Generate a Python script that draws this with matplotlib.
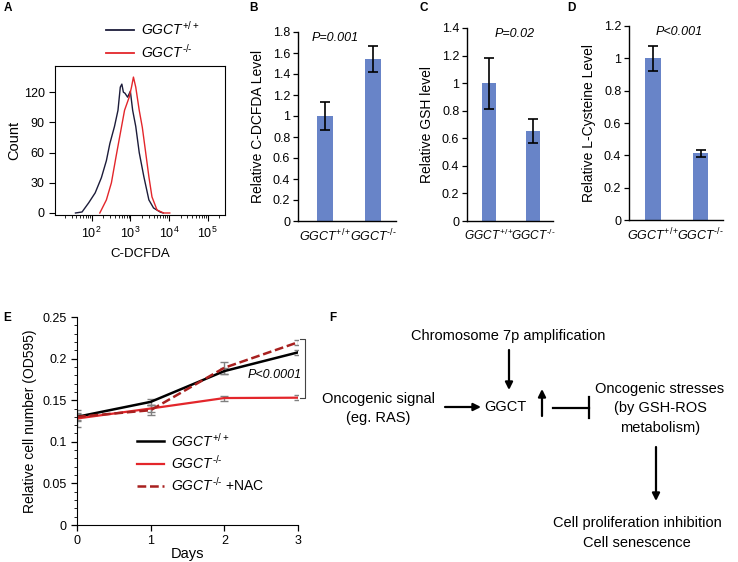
import matplotlib
matplotlib.use("Agg")
import matplotlib.pyplot as plt
from matplotlib.lines import Line2D
from matplotlib.ticker import LogLocator, NullFormatter, MultipleLocator
import numpy as np

plt.rcParams['font.family'] = ['Liberation Sans', 'DejaVu Sans']
plt.rcParams['mathtext.fontset'] = 'custom'
plt.rcParams['mathtext.rm'] = 'Liberation Sans'
plt.rcParams['mathtext.it'] = 'Liberation Sans:italic'
plt.rcParams['mathtext.bf'] = 'Liberation Sans:bold'

# %%
# data - panel A histogram (log10 C-DCFDA intensity, count)
hist_log_wt = [1.58, 1.75, 1.92, 2.09, 2.25, 2.38, 2.47, 2.59, 2.68, 2.74, 2.78, 2.82,
               2.86, 2.93, 3.0, 3.06, 3.14, 3.23, 3.35, 3.48, 3.6, 3.77, 3.85]
hist_cnt_wt = [0, 1, 10, 20, 35, 52, 69, 86, 102, 125, 128, 120,
               119, 115, 121, 102, 86, 60, 36, 13, 5, 1, 0]
hist_log_ko = [2.21, 2.38, 2.51, 2.63, 2.74, 2.85, 2.97, 3.03, 3.08, 3.14, 3.23, 3.31,
               3.39, 3.48, 3.56, 3.69, 3.86, 4.02]
hist_cnt_ko = [0, 13, 30, 56, 79, 102, 115, 125, 135, 125, 102, 85,
               62, 36, 16, 3, 0, 0]

# panels B-D  (u2010 = hyphen, so mathtext doesn't turn it into a wide minus)
genotypes = ['$\\mathit{GGCT}^{+/+}$', '$\\mathit{GGCT}^{\u2010/\u2010}$']
dcfda_mean = [1.0, 1.545]
dcfda_err = [0.135, 0.125]
gsh_mean = [1.0, 0.653]
gsh_err = [0.185, 0.09]
cys_mean = [1.0, 0.412]
cys_err = [0.078, 0.021]

# panel E
days = [0, 1, 2, 3]
od_wt = [0.130, 0.148, 0.185, 0.2075]
od_ko = [0.128, 0.140, 0.1526, 0.153]
od_nac = [0.130, 0.138, 0.189, 0.2196]
err_wt = [0.005, 0.004, 0.004, 0.003]
err_ko = [0.010, 0.004, 0.003, 0.003]
err_nac = [0.004, 0.006, 0.007, 0.003]

# %%
W, H = 738, 562
fig = plt.figure(figsize=(W / 100, H / 100), dpi=100)


def rect(l, t, r, b):
    # pixel box -> figure fraction
    return [l / W, 1 - b / H, (r - l) / W, (b - t) / H]


# overlay axes in pixel coords for letters and the diagram
ov = fig.add_axes([0, 0, 1, 1])
ov.set_xlim(0, W)
ov.set_ylim(H, 0)
ov.axis('off')

for lab, x, y in [('A', 8, 8), ('B', 253, 8), ('C', 424, 8), ('D', 571, 8), ('E', 7, 318), ('F', 333, 318)]:
    ov.text(x, y, lab, fontsize=8.5, fontweight='bold', ha='center', va='center')

# %%
# Panel A
axA = fig.add_axes(rect(55, 66, 225, 215))
axA.plot(10 ** np.array(hist_log_wt), hist_cnt_wt, color='#1c1c3a', lw=1)
axA.plot(10 ** np.array(hist_log_ko), hist_cnt_ko, color='#e3262b', lw=1)
axA.set_xscale('log')
axA.set_xlim(10 ** 1.05, 10 ** 5.45)
axA.set_ylim(-2, 146)
axA.set_yticks([0, 30, 60, 90, 120])
axA.set_xticks([1e2, 1e3, 1e4, 1e5])
axA.xaxis.set_minor_locator(LogLocator(base=10, subs=np.arange(2, 10), numticks=20))
axA.xaxis.set_minor_formatter(NullFormatter())
axA.tick_params(labelsize=9, length=4, width=0.8)
axA.tick_params(which='minor', length=2.5, width=0.6)
axA.set_ylabel('Count', fontsize=10.5, labelpad=2)
axA.set_xlabel('C-DCFDA', fontsize=9.5, labelpad=5)
hA = [Line2D([], [], color='#1c1c3a', lw=1.3), Line2D([], [], color='#e3262b', lw=1.3)]
axA.legend(hA, genotypes, loc='upper left', bbox_to_anchor=(0.3, 1.31), frameon=False,
           fontsize=10, handlelength=2.0, handletextpad=0.5, labelspacing=0.35,
           borderpad=0, borderaxespad=0)


# %%
# Panels B, C, D
def bar_panel(box, mean, err, ymax, step, xlim, ylabel, ptext, px, xfs=9):
    ax = fig.add_axes(rect(*box))
    ax.bar([0, 1], mean, width=0.32, color='#6884c8')
    ax.errorbar([0, 1], mean, yerr=err, fmt='none', ecolor='k', elinewidth=1.2,
                capsize=3.5, capthick=1.2)
    ax.set_xlim(*xlim)
    ax.set_ylim(0, ymax)
    ticks = np.round(np.arange(0, ymax + step / 2, step), 1)
    ax.set_yticks(ticks)
    ax.set_yticklabels(['%g' % t for t in ticks])
    ax.set_xticks([0, 1])
    ax.set_xticklabels(genotypes, fontsize=xfs)
    ax.tick_params(axis='x', length=0, pad=5)
    ax.tick_params(axis='y', labelsize=9, length=3.5, width=0.9, pad=2)
    for s in ['top', 'right']:
        ax.spines[s].set_visible(False)
    for s in ['left', 'bottom']:
        ax.spines[s].set_linewidth(1.0)
    ax.set_ylabel(ylabel, fontsize=10, labelpad=6)
    ax.text(px, 1.0, ptext, transform=ax.transAxes, fontsize=9, style='italic',
            ha='center', va='top')
    return ax


bar_panel((298, 32, 396, 221), dcfda_mean, dcfda_err, 1.8, 0.2, (-0.56, 1.48),
          'Relative C-DCFDA Level', 'P=0.001', 0.38)
bar_panel((467, 28, 553, 221), gsh_mean, gsh_err, 1.4, 0.2, (-0.51, 1.45),
          'Relative GSH level', 'P=0.02', 0.56, xfs=8.6)
bar_panel((629, 26, 723, 220), cys_mean, cys_err, 1.2, 0.2, (-0.505, 1.47),
          'Relative L-Cysteine Level', 'P<0.001', 0.53)

# %%
# Panel E
axE = fig.add_axes(rect(77, 317, 298, 525))
axE.errorbar(days, od_wt, yerr=err_wt, fmt='none', ecolor='#808080', elinewidth=1, capsize=3)
axE.errorbar(days, od_ko, yerr=err_ko, fmt='none', ecolor='#808080', elinewidth=1, capsize=3)
axE.errorbar(days, od_nac, yerr=err_nac, fmt='none', ecolor='#808080', elinewidth=1, capsize=3)
axE.plot(days, od_wt, color='k', lw=1.8, label=genotypes[0])
axE.plot(days, od_ko, color='#e3262b', lw=1.6, label=genotypes[1])
axE.plot(days, od_nac, color='#a8201f', lw=1.8, ls=(0, (3.5, 1.5)),
         label=genotypes[1] + ' +NAC')
axE.set_xlim(0, 3)
axE.set_ylim(0, 0.25)
axE.set_xticks(days)
axE.set_yticks([0, 0.05, 0.1, 0.15, 0.2, 0.25])
axE.set_yticklabels(['0', '0.05', '0.1', '0.15', '0.2', '0.25'])
axE.yaxis.set_minor_locator(MultipleLocator(0.01))
axE.tick_params(labelsize=9, length=4, width=0.9)
axE.tick_params(axis='x', pad=3)
axE.tick_params(which='minor', length=2, width=0.6)
for s in ['top', 'right']:
    axE.spines[s].set_visible(False)
axE.set_xlabel('Days', fontsize=10.5, labelpad=0)
axE.set_ylabel('Relative cell number (OD595)', fontsize=10, labelpad=4)
axE.legend(loc='upper left', bbox_to_anchor=(0.27, 0.45), frameon=False, fontsize=10,
           handlelength=2.0, handletextpad=0.45, labelspacing=0.3, borderpad=0,
           borderaxespad=0)
axE.plot([3.03, 3.09, 3.09, 3.03], [0.2236, 0.2236, 0.1526, 0.1526], color='#444444',
         lw=0.8, clip_on=False)
axE.text(2.32, 0.180, 'P<0.0001', fontsize=9, style='italic', ha='left', va='center')

# %%
# Panel F diagram
fs = 10.5
ov.text(508, 336, 'Chromosome 7p amplification', fontsize=fs, ha='center', va='center')
ov.text(378, 399, 'Oncogenic signal', fontsize=fs, ha='center', va='center')
ov.text(378, 418, '(eg. RAS)', fontsize=fs, ha='center', va='center')
ov.text(505, 407, 'GGCT', fontsize=fs, ha='center', va='center')
ov.text(660, 389, 'Oncogenic stresses', fontsize=fs, ha='center', va='center')
ov.text(660, 408, '(by GSH-ROS', fontsize=fs, ha='center', va='center')
ov.text(660, 428, 'metabolism)', fontsize=fs, ha='center', va='center')
ov.text(637, 523, 'Cell proliferation inhibition', fontsize=fs, ha='center', va='center')
ov.text(637, 543, 'Cell senescence', fontsize=fs, ha='center', va='center')

arw = dict(arrowstyle='-|>', lw=1.6, color='k', mutation_scale=11, shrinkA=0, shrinkB=0)
ov.annotate('', xy=(509, 390), xytext=(509, 350), arrowprops=arw)
ov.annotate('', xy=(481, 407), xytext=(445, 407), arrowprops=arw)
ov.annotate('', xy=(542, 389), xytext=(542, 416), arrowprops=arw)
ov.annotate('', xy=(656, 501), xytext=(656, 447), arrowprops=arw)
ov.plot([553, 589], [408, 408], color='k', lw=1.6)
ov.plot([589, 589], [397, 418], color='k', lw=1.6)

fig.savefig('out.png', dpi=100)
